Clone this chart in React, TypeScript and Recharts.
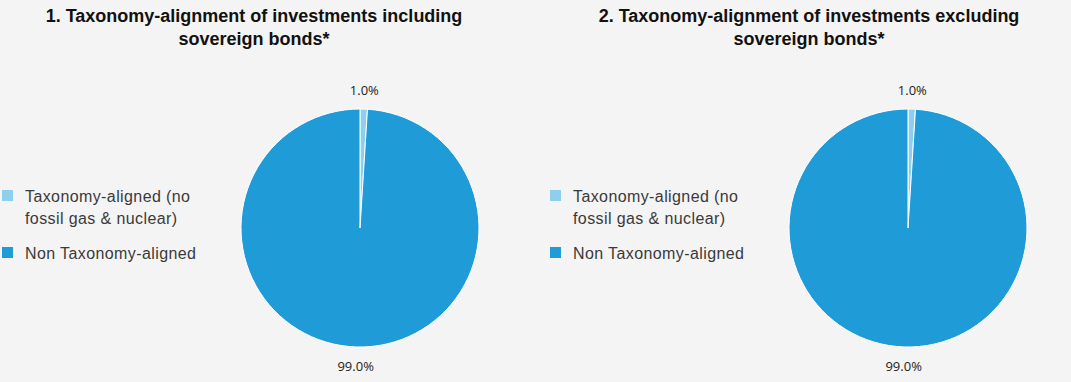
import { PieChart, Pie, Cell } from "recharts";

const categories = ["Taxonomy-aligned (no fossil gas & nuclear)", "Non Taxonomy-aligned"];
const includingValues = [1.0, 99.0];
const excludingValues = [1.0, 99.0];
const titles = [
  ["1. Taxonomy-alignment of investments including", "sovereign bonds*"],
  ["2. Taxonomy-alignment of investments excluding", "sovereign bonds*"],
];
const colors = ["#8ecfee", "#1f9bd8"];

const RAD = Math.PI / 180;

const renderLabel = ({ cx, cy, midAngle, outerRadius, value }: any) => {
  const r = outerRadius + 19;
  const x = cx + r * Math.cos(-midAngle * RAD);
  const y = cy + r * Math.sin(-midAngle * RAD);
  return (
    <text
      x={x}
      y={y}
      textAnchor="middle"
      dominantBaseline="central"
      fill="#222"
      fontSize={13}
      fontFamily="'Open Sans', sans-serif"
    >
      {value.toFixed(1)}%
    </text>
  );
};

// legend drawn as plain html beside the pie
const PieLegend = ({ left }: { left: number }) => (
  <div
    style={{
      position: "absolute",
      left,
      top: 187,
      width: 240,
      fontFamily: "'Liberation Sans', Arial, sans-serif",
      fontSize: 16,
      letterSpacing: 0.4,
      color: "#3a3a3a",
    }}
  >
    {categories.map((c, i) => (
      <div key={c} style={{ display: "flex", alignItems: "flex-start", marginBottom: 14 }}>
        <span
          style={{
            display: "inline-block",
            width: 11,
            height: 11,
            background: colors[i],
            marginTop: 3,
            marginRight: 12,
            flexShrink: 0,
          }}
        />
        <span style={{ lineHeight: "22px", marginTop: -1 }}>
          {i === 0 ? (
            <>
              Taxonomy-aligned (no
              <br />
              fossil gas &amp; nuclear)
            </>
          ) : (
            c
          )}
        </span>
      </div>
    ))}
  </div>
);

function Panel({ values, title, left, width, titleCenter, legendLeft }: any) {
  const data = categories.map((name, i) => ({ name, value: values[i] }));
  return (
    <div style={{ position: "absolute", left, top: 0, width, height: 382 }}>
      <div
        style={{
          position: "absolute",
          left: titleCenter - 260,
          width: 520,
          top: 5,
          textAlign: "center",
          fontFamily: "'Liberation Sans', Arial, sans-serif",
          fontWeight: "bold",
          fontSize: 18,
          lineHeight: "23px",
          color: "#111",
        }}
      >
        {title[0]}
        <br />
        {title[1]}
      </div>
      <PieLegend left={legendLeft} />
      <div style={{ position: "absolute", left: 0, top: 0 }}>
        <PieChart width={width} height={382} margin={{ top: 0, right: 0, bottom: 0, left: 0 }}>
          <Pie
            data={data}
            dataKey="value"
            nameKey="name"
            cx={360}
            cy={228}
            outerRadius={119}
            startAngle={90}
            endAngle={-270}
            stroke="#ffffff"
            strokeWidth={1}
            label={renderLabel}
            labelLine={false}
            isAnimationActive={false}
          >
            {data.map((d, i) => (
              <Cell key={d.name} fill={colors[i]} />
            ))}
          </Pie>
        </PieChart>
      </div>
    </div>
  );
}

export default function App() {
  return (
    <div
      style={{
        position: "absolute",
        left: 0,
        top: 0,
        width: 1071,
        height: 382,
        background: "#f4f4f4",
        overflow: "hidden",
      }}
    >
      <Panel values={includingValues} title={titles[0]} left={0} width={545} titleCenter={254} legendLeft={2} />
      <Panel values={excludingValues} title={titles[1]} left={548} width={523} titleCenter={261} legendLeft={2} />
    </div>
  );
}
